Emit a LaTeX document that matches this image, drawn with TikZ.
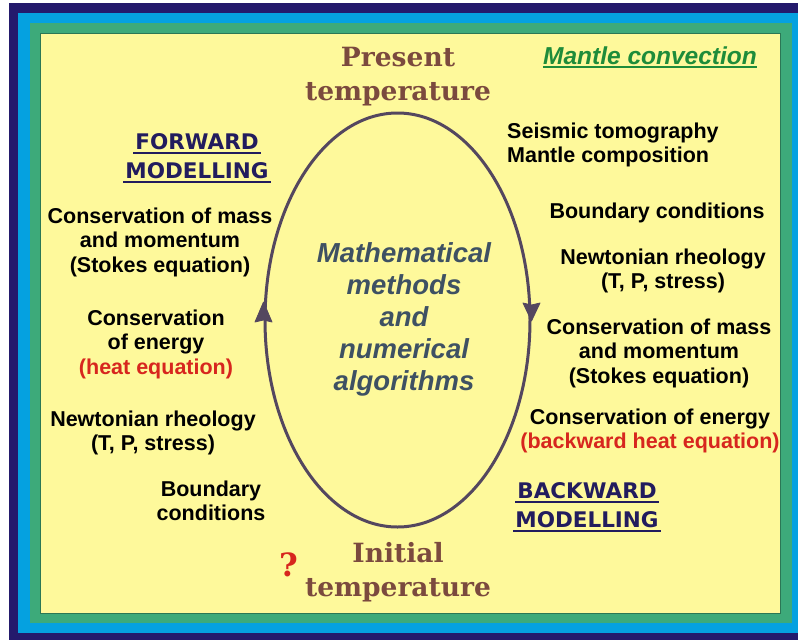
\documentclass[tikz,border=0pt]{standalone}
\usepackage{fontspec}
\setmainfont{Liberation Sans}
\newfontfamily\titlefont{DejaVu Serif}
\newfontfamily\capsfont{DejaVu Sans}
\usetikzlibrary{arrows.meta,shapes.geometric,calc}
\definecolor{navyf}{HTML}{241A6C}
\definecolor{skyb}{HTML}{05A1E0}
\definecolor{frgreen}{HTML}{3DAA7A}
\definecolor{paper}{HTML}{FEF99B}
\definecolor{brownt}{HTML}{7B4A3E}
\definecolor{slate}{HTML}{3E5163}
\definecolor{ringc}{HTML}{54475F}
\definecolor{redt}{HTML}{D7261E}
\definecolor{greent}{HTML}{1E8C3A}
\definecolor{capc}{HTML}{221C5E}
\tikzset{
  body/.style={font=\fontsize{21.5}{24.5}\selectfont\bfseries, text=black, align=center, inner sep=0pt},
  bodyl/.style={body, align=left},
  title/.style={font=\titlefont\fontsize{26.5}{34}\selectfont\bfseries, text=brownt, align=center, inner sep=0pt},
  centre/.style={font=\fontsize{27.5}{32}\selectfont\bfseries\itshape, text=slate, align=center, inner sep=0pt},
  capsh/.style={font=\capsfont\fontsize{21.5}{24}\selectfont\bfseries, text=capc, inner sep=0pt},
  uline/.style={draw=capc, line width=2pt},
  headfill/.style={fill=ringc, draw=ringc, line width=0.8pt, line join=round}
}
\begin{document}
\begin{tikzpicture}[x=1pt,y=-1pt]
\useasboundingbox (0,0) rectangle (798,640);
\fill[white] (0,0) rectangle (798,640);
\fill[navyf] (9,3) rectangle (798,640);
\fill[skyb] (18,13) rectangle (798,633);
\fill[frgreen] (30,23) rectangle (792,623);
\fill[paper, draw=frgreen!70!black, line width=0.6pt] (40,33) rectangle (780,613);

% ellipse
\node[ellipse, draw=ringc, line width=3pt, minimum width=265pt, minimum height=414pt, inner sep=0pt] (ring) at (397.5,320) {};
% arrow heads on the ellipse
\filldraw[headfill] ($(ring.west)+(0,-18)$) -- ($(ring.west)+(8.5,2)$) -- ($(ring.west)+(0,0)$) -- ($(ring.west)+(-8.5,2)$) -- cycle;
\filldraw[headfill] ($(ring.east)+(0,1)$) -- ($(ring.east)+(8.5,-17)$) -- ($(ring.east)+(0,-15)$) -- ($(ring.east)+(-8.5,-17)$) -- cycle;

% titles
\node[title] (present) at (398,77) {Present\\temperature};
\node[title] (initial) at (398,572) {Initial\\temperature};
\node[font=\titlefont\fontsize{32}{32}\selectfont\bfseries, text=redt, inner sep=0pt] (qm) at (289,565) {?};

% mantle convection
\node[font=\fontsize{24.5}{26}\selectfont\bfseries\itshape, text=greent, inner sep=0pt, anchor=base] (mc) at (650,64) {Mantle convection};
\draw[greent, line width=2pt] ($(mc.base west)+(0,3)$) -- ($(mc.base east)+(0,3)$);

% forward / backward modelling
\node[capsh, anchor=base] (fw1) at (197,149) {FORWARD};
\node[capsh, anchor=base] (fw2) at (197,178) {MODELLING};
\draw[uline] ($(fw1.base west)+(-2,4)$) -- ($(fw1.base east)+(2,4)$);
\draw[uline] ($(fw2.base west)+(-2,4)$) -- ($(fw2.base east)+(2,4)$);
\node[capsh, anchor=base] (bw1) at (587,498) {BACKWARD};
\node[capsh, anchor=base] (bw2) at (587,527) {MODELLING};
\draw[uline] ($(bw1.base west)+(-2,4)$) -- ($(bw1.base east)+(2,4)$);
\draw[uline] ($(bw2.base west)+(-2,4)$) -- ($(bw2.base east)+(2,4)$);

% centre
\node[centre] (maths) at (404,319) {Mathematical\\methods\\and\\numerical\\algorithms};

% left column
\node[body] (l1) at (160,242) {Conservation of mass\\and momentum\\(Stokes equation)};
\node[body] (l2) at (156,344) {Conservation\\of energy\\\textcolor{redt}{(heat equation)}};
\node[body] (l3) at (153,433) {Newtonian rheology\\(T, P, stress)};
\node[body] (l4) at (211,501) {Boundary\\conditions};

% right column
\node[bodyl, anchor=west] (r1) at (507,145) {Seismic tomography\\Mantle composition};
\node[body] (r2) at (657,213) {Boundary conditions};
\node[body] (r3) at (663,271) {Newtonian rheology\\(T, P, stress)};
\node[body] (r4) at (659,353) {Conservation of mass\\and momentum\\(Stokes equation)};
\node[body] (r5) at (650,431) {Conservation of energy\\\textcolor{redt}{(backward heat equation)}};
\end{tikzpicture}
\end{document}
